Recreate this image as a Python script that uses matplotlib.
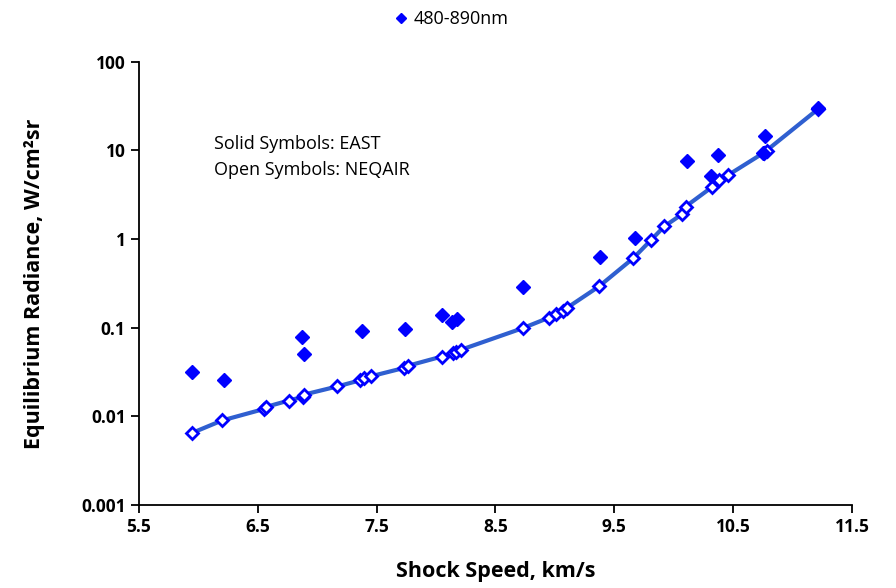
import matplotlib
matplotlib.use("Agg")
import matplotlib.pyplot as plt
from matplotlib.ticker import FixedLocator, NullLocator

plt.rcParams['font.family'] = ['Open Sans', 'DejaVu Sans']

# EAST measurements (solid symbols)
east_speed = [5.95, 6.215, 6.87, 6.89, 7.38, 7.74, 8.05, 8.135, 8.18, 8.73,
              9.38, 9.67, 10.11, 10.31, 10.37, 10.75, 10.77, 11.21]
east_rad = [0.032, 0.026, 0.0785, 0.050, 0.093, 0.097, 0.138, 0.116, 0.125, 0.29,
            0.626, 1.02, 7.5, 5.08, 8.9, 9.3, 14.4, 30.0]

# NEQAIR calculations (open symbols, joined by line)
neq_speed = [5.946, 6.20, 6.55, 6.57, 6.76, 6.877, 6.888, 7.17, 7.36, 7.39,
             7.45, 7.73, 7.765, 8.05, 8.14, 8.17, 8.21, 8.73, 8.95, 9.01,
             9.07, 9.10, 9.37, 9.66, 9.81, 9.92, 10.07, 10.10, 10.32, 10.38,
             10.46, 10.76, 10.78, 11.21]
neq_rad = [0.0065, 0.0090, 0.0121, 0.0128, 0.0151, 0.0166, 0.0176, 0.0218, 0.0255, 0.0271,
           0.0283, 0.0352, 0.0373, 0.0474, 0.0519, 0.0527, 0.0565, 0.099, 0.130, 0.143,
           0.156, 0.167, 0.292, 0.61, 0.98, 1.39, 1.91, 2.33, 3.85, 4.66,
           5.3, 9.46, 9.96, 29.0]

x_ticks = [5.5, 6.5, 7.5, 8.5, 9.5, 10.5, 11.5]
y_ticks = [0.001, 0.01, 0.1, 1, 10, 100]
y_labels = ['0.001', '0.01', '0.1', '1', '10', '100']

fig = plt.figure(figsize=(8.96, 5.88), dpi=100)
ax = fig.add_axes([0.155, 0.141, 0.796, 0.754])

ax.plot(neq_speed, neq_rad, color='#2f5fd0', lw=3, zorder=2)
ax.plot(neq_speed, neq_rad, ls='none', marker='D', ms=6.5, mfc='white',
        mec='#0000ff', mew=2, zorder=3)
ax.plot(east_speed, east_rad, ls='none', marker='D', ms=7, color='#0000ff',
        mec='#0000ff', zorder=4, label='480-890nm')

ax.set_yscale('log')
ax.set_xlim(5.5, 11.5)
ax.set_ylim(0.001, 100)
ax.xaxis.set_major_locator(FixedLocator(x_ticks))
ax.yaxis.set_major_locator(FixedLocator(y_ticks))
ax.yaxis.set_minor_locator(NullLocator())
ax.set_xticklabels([str(t) for t in x_ticks])
ax.set_yticklabels(y_labels)

for side in ['top', 'right']:
    ax.spines[side].set_visible(False)
for side in ['left', 'bottom']:
    ax.spines[side].set_linewidth(1.3)
ax.tick_params(direction='out', length=6, width=1.3, labelsize=12.5)
for lab in ax.get_xticklabels() + ax.get_yticklabels():
    lab.set_fontweight('bold')

ax.set_xlabel('Shock Speed, km/s', fontsize=15.5, fontweight='bold', labelpad=18)
ax.set_ylabel('Equilibrium Radiance, W/cm²sr', fontsize=15.5,
              fontweight='bold', labelpad=26)

ax.text(0.105, 0.785, 'Solid Symbols: EAST\nOpen Symbols: NEQAIR',
        transform=ax.transAxes, fontsize=13, linespacing=1.6, va='center')

fig.legend(loc='upper center', bbox_to_anchor=(0.505, 1.01), frameon=False,
           fontsize=13, handlelength=0.6, handletextpad=0.4, markerscale=0.8)

fig.savefig('out.png', dpi=100)
